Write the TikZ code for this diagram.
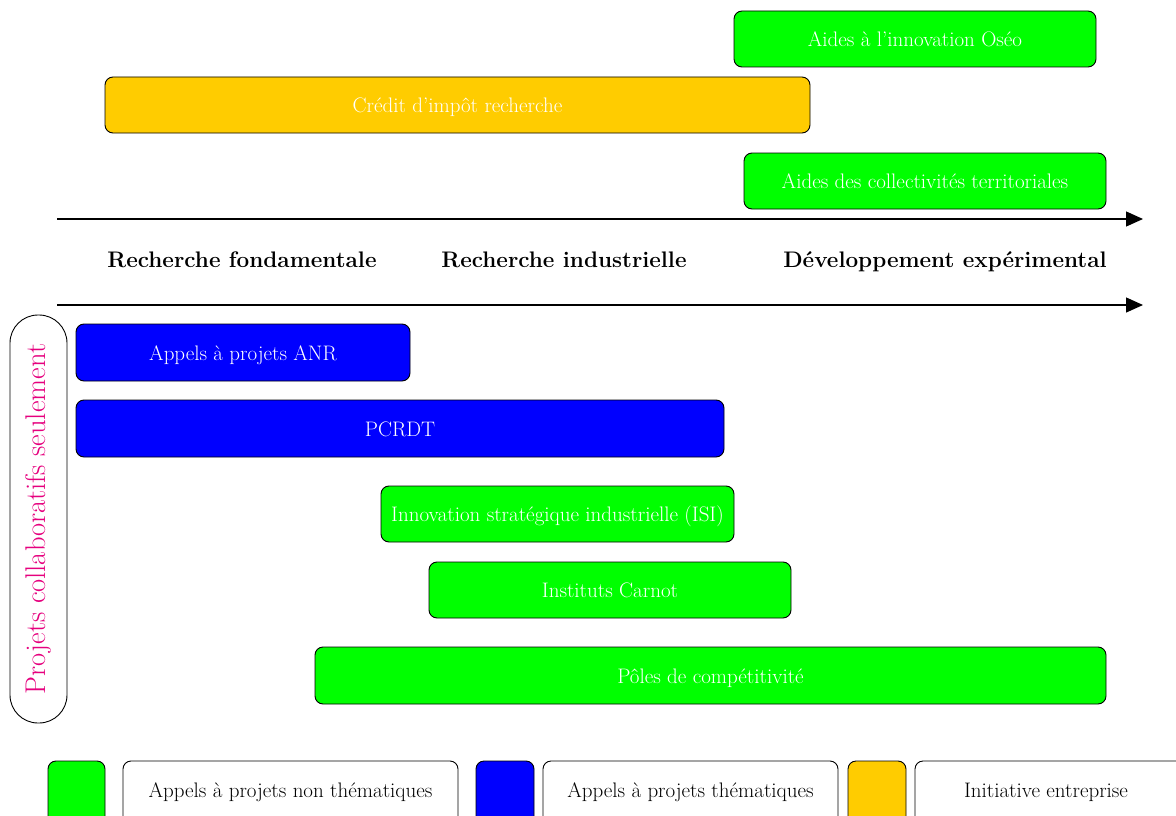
\documentclass[tikz,border=0pt]{standalone}
\usetikzlibrary{arrows.meta}
\definecolor{vert}{RGB}{0,255,0}
\definecolor{bleu}{RGB}{0,0,255}
\definecolor{orange}{RGB}{255,204,0}
\definecolor{magenta}{RGB}{230,0,126}
\begin{document}
\begin{tikzpicture}[x=1pt,y=-1pt,
  bar/.style={draw=black,line width=0.9pt,rounded corners=8pt,inner sep=0pt,outer sep=0pt,text=white,font=\fontsize{21}{25}\selectfont,text height=16pt,text depth=1pt},
  gbar/.style={bar,fill=vert},
  bbar/.style={bar,fill=bleu},
  obar/.style={bar,fill=orange},
  sq/.style={draw=black,line width=0.9pt,rounded corners=8pt,minimum width=57pt,minimum height=70pt,inner sep=0pt},
  lbox/.style={draw=black,line width=0.9pt,rounded corners=8pt,inner sep=0pt,outer sep=0pt,fill=white,minimum height=70pt},
  ltxt/.style={font=\fontsize{21}{25}\selectfont,anchor=base},
  phase/.style={font=\bfseries\fontsize{22.5}{27}\selectfont,anchor=base},
  axis/.style={line width=1.3pt,-{Triangle[length=17pt,width=15pt]}}]
\clip (0,0) rectangle (1176,816);
\fill[white] (0,0) rectangle (1176,816);
% top bars
\node[gbar,minimum width=362pt,minimum height=56pt] (oseo) at (915,39) {Aides à l'innovation Oséo};
\node[obar,minimum width=705pt,minimum height=56pt] (cir) at (457.5,105) {Crédit d'impôt recherche};
\node[gbar,minimum width=362pt,minimum height=56pt] (coll) at (925,181) {Aides des collectivités territoriales};
% axes
\coordinate (a1s) at (57,219);
\coordinate (a1e) at (1143,219);
\coordinate (a2s) at (57,305);
\coordinate (a2e) at (1143,305);
\draw[axis] (a1s) -- (a1e);
\draw[axis] (a2s) -- (a2e);
\node[phase] (rf) at (242,267) {Recherche fondamentale};
\node[phase] (ri) at (564,267) {Recherche industrielle};
\node[phase] (de) at (945,267) {Développement expérimental};
% left pill
\node[draw=black,line width=0.9pt,rounded corners=28pt,minimum width=57pt,minimum height=408pt,inner sep=0pt] (pill) at (38.5,519) {};
\node[rotate=90,text=magenta,font=\fontsize{28.5}{33}\selectfont] (pilltxt) at (pill.center) {Projets collaboratifs seulement};
% bottom bars
\node[bbar,minimum width=334pt,minimum height=57pt] (anr) at (243,352.5) {Appels à projets ANR};
\node[bbar,minimum width=648pt,minimum height=57pt] (pcrdt) at (400,428.5) {PCRDT};
\node[gbar,minimum width=353pt,minimum height=56pt] (isi) at (557.5,514) {Innovation stratégique industrielle (ISI)};
\node[gbar,minimum width=362pt,minimum height=56pt] (carnot) at (610,590) {Instituts Carnot};
\node[gbar,minimum width=791pt,minimum height=57pt] (poles) at (710.5,675.5) {Pôles de compétitivité};
% legend
\node[sq,fill=vert] (lg) at (76.5,796) {};
\node[lbox,minimum width=335pt] (lgt) at (290.5,796) {};
\node[ltxt] (lgtt) at (290.5,797) {Appels à projets non thématiques};
\node[sq,fill=bleu,minimum width=58pt] (lb) at (505,796) {};
\node[lbox,minimum width=295pt] (lbt) at (690.5,796) {};
\node[ltxt] (lbtt) at (690.5,797) {Appels à projets thématiques};
\node[sq,fill=orange,minimum width=58pt] (lo) at (877,796) {};
\node[lbox,minimum width=280pt] (lot) at (1055,796) {};
\node[ltxt] (lott) at (1046,797) {Initiative entreprise};
\end{tikzpicture}
\end{document}
